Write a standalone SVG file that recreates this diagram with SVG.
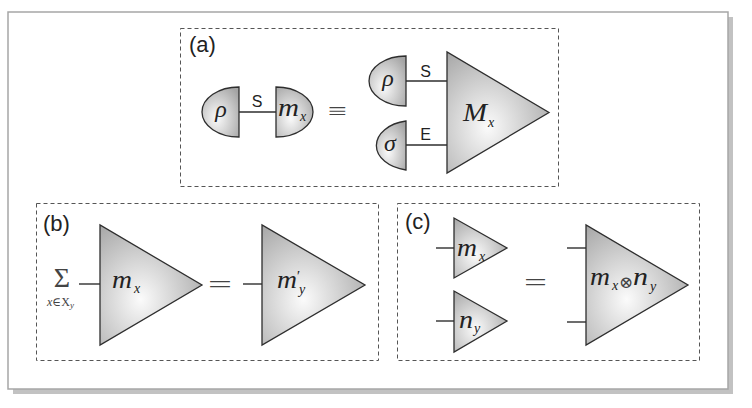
<svg xmlns="http://www.w3.org/2000/svg" width="752" height="408" viewBox="0 0 752 408">
<defs>
<radialGradient id="g" cx="0.4" cy="0.62" r="0.75" fx="0.4" fy="0.62">
<stop offset="0" stop-color="#fbfbfb"/>
<stop offset="1" stop-color="#a4a4a4"/>
</radialGradient>
<style>
.shape{fill:url(#g);stroke:#2e2e2e;stroke-width:1.3;stroke-linejoin:miter}
.panel{fill:none;stroke:#555;stroke-width:1;stroke-dasharray:4 3}
.wire{stroke:#2e2e2e;stroke-width:1.4;fill:none}
.lab{font-family:"Liberation Sans",Arial,sans-serif;fill:#222}
.math{font-family:"Liberation Serif","DejaVu Serif",serif;font-style:italic;fill:#222}
.sym{font-family:"Liberation Serif","DejaVu Serif",serif;fill:#444}
</style>
</defs>
<rect x="13" y="17" width="720" height="377" fill="#c2c2c2"/>
<rect x="8" y="12" width="720" height="377" fill="#fff" stroke="#a6a6a6" stroke-width="1.5"/>

<g id="panel-a">
<rect class="panel" x="180.5" y="28.5" width="378" height="158"/>
<text class="lab" x="189" y="52" font-size="22">(a)</text>
</g>
<g id="panel-b">
<rect class="panel" x="36.5" y="203.5" width="342" height="157"/>
<text class="lab" x="43" y="231" font-size="22">(b)</text>
</g>
<g id="panel-c">
<rect class="panel" x="397.5" y="203.5" width="302" height="157"/>
<text class="lab" x="405" y="229" font-size="22">(c)</text>
</g>

<g id="connectors">
<line class="wire" x1="239" y1="112" x2="276" y2="112"/>
<line class="wire" x1="406" y1="81" x2="447" y2="81"/>
<line class="wire" x1="406" y1="145" x2="447" y2="145"/>
<line class="wire" x1="79" y1="284" x2="100" y2="284"/>
<line class="wire" x1="243" y1="284" x2="262" y2="284"/>
<line class="wire" x1="436" y1="248" x2="454" y2="248"/>
<line class="wire" x1="436" y1="321" x2="454" y2="321"/>
<line class="wire" x1="567" y1="248" x2="586" y2="248"/>
<line class="wire" x1="567" y1="322" x2="586" y2="322"/>
<text class="lab" x="257" y="107" font-size="16" text-anchor="middle">S</text>
<text class="lab" x="425.5" y="77" font-size="16" text-anchor="middle">S</text>
<text class="lab" x="425.5" y="140" font-size="16" text-anchor="middle">E</text>
</g>

<g id="a-rho">
<path class="shape" d="M239,87 A37,25 0 0 0 239,137 Z"/>
<text class="math" x="221" y="117" font-size="24" text-anchor="middle">ρ</text>
</g>
<g id="a-mx">
<path class="shape" d="M276,87 A37,25 0 0 1 276,137 Z"/>
<text class="math" x="278" y="116" font-size="25" textLength="21" lengthAdjust="spacingAndGlyphs">m</text>
<text class="math" x="300" y="121" font-size="14">x</text>
</g>
<g id="a-equiv">
<text class="sym" x="337.5" y="119" font-size="24" text-anchor="middle" textLength="19" lengthAdjust="spacingAndGlyphs">≡</text>
</g>
<g id="a-rho2">
<path class="shape" d="M406,56 A37,25 0 0 0 406,106 Z"/>
<text class="math" x="388" y="86" font-size="24" text-anchor="middle">ρ</text>
</g>
<g id="a-sigma">
<path class="shape" d="M406,121 A37,25 0 0 0 406,170 Z"/>
<text class="math" x="390" y="151" font-size="24" text-anchor="middle">σ</text>
</g>
<g id="a-Mx">
<path class="shape" d="M447,52 L447,173 L549,112.5 Z"/>
<text class="math" x="463" y="121" font-size="25" textLength="24" lengthAdjust="spacingAndGlyphs">M</text>
<text class="math" x="488" y="127" font-size="14">x</text>
</g>

<g id="b-sum">
<text class="sym" x="62" y="287" font-size="28" text-anchor="middle" fill="#222">Σ</text>
<text class="sym" x="47" y="306" font-size="12" fill="#222"><tspan font-style="italic">x</tspan>∈X<tspan font-size="9" font-style="italic" dy="2">y</tspan></text>
</g>
<g id="b-mx">
<path class="shape" d="M100,225 L100,345 L202,285 Z"/>
<text class="math" x="112" y="288" font-size="25" textLength="20" lengthAdjust="spacingAndGlyphs">m</text>
<text class="math" x="134" y="293" font-size="14">x</text>
</g>
<g id="b-eq">
<text class="sym" x="220" y="292" font-size="24" text-anchor="middle" textLength="24" lengthAdjust="spacingAndGlyphs">=</text>
</g>
<g id="b-my">
<path class="shape" d="M262,225 L262,345 L365,285 Z"/>
<text class="math" x="277" y="288" font-size="25" textLength="20" lengthAdjust="spacingAndGlyphs">m</text>
<text class="math" x="296" y="281" font-size="15">′</text>
<text class="math" x="299" y="294" font-size="14">y</text>
</g>

<g id="c-mx">
<path class="shape" d="M454,218 L454,278 L507,248 Z"/>
<text class="math" x="457" y="256" font-size="25" textLength="20" lengthAdjust="spacingAndGlyphs">m</text>
<text class="math" x="479" y="261" font-size="14">x</text>
</g>
<g id="c-ny">
<path class="shape" d="M454,291 L454,352 L507,321 Z"/>
<text class="math" x="459" y="328" font-size="25" textLength="14" lengthAdjust="spacingAndGlyphs">n</text>
<text class="math" x="474" y="333" font-size="14">y</text>
</g>
<g id="c-eq">
<text class="sym" x="535.5" y="290" font-size="24" text-anchor="middle" textLength="23" lengthAdjust="spacingAndGlyphs">=</text>
</g>
<g id="c-mxny">
<path class="shape" d="M586,225 L586,345 L688,285 Z"/>
<text class="math" x="590" y="285" font-size="25" textLength="20" lengthAdjust="spacingAndGlyphs">m</text>
<text class="math" x="612" y="290" font-size="14">x</text>
<text class="sym" x="619" y="288" font-size="17" fill="#222">⊗</text>
<text class="math" x="633" y="285" font-size="25" textLength="15" lengthAdjust="spacingAndGlyphs">n</text>
<text class="math" x="650" y="291" font-size="14">y</text>
</g>
</svg>
